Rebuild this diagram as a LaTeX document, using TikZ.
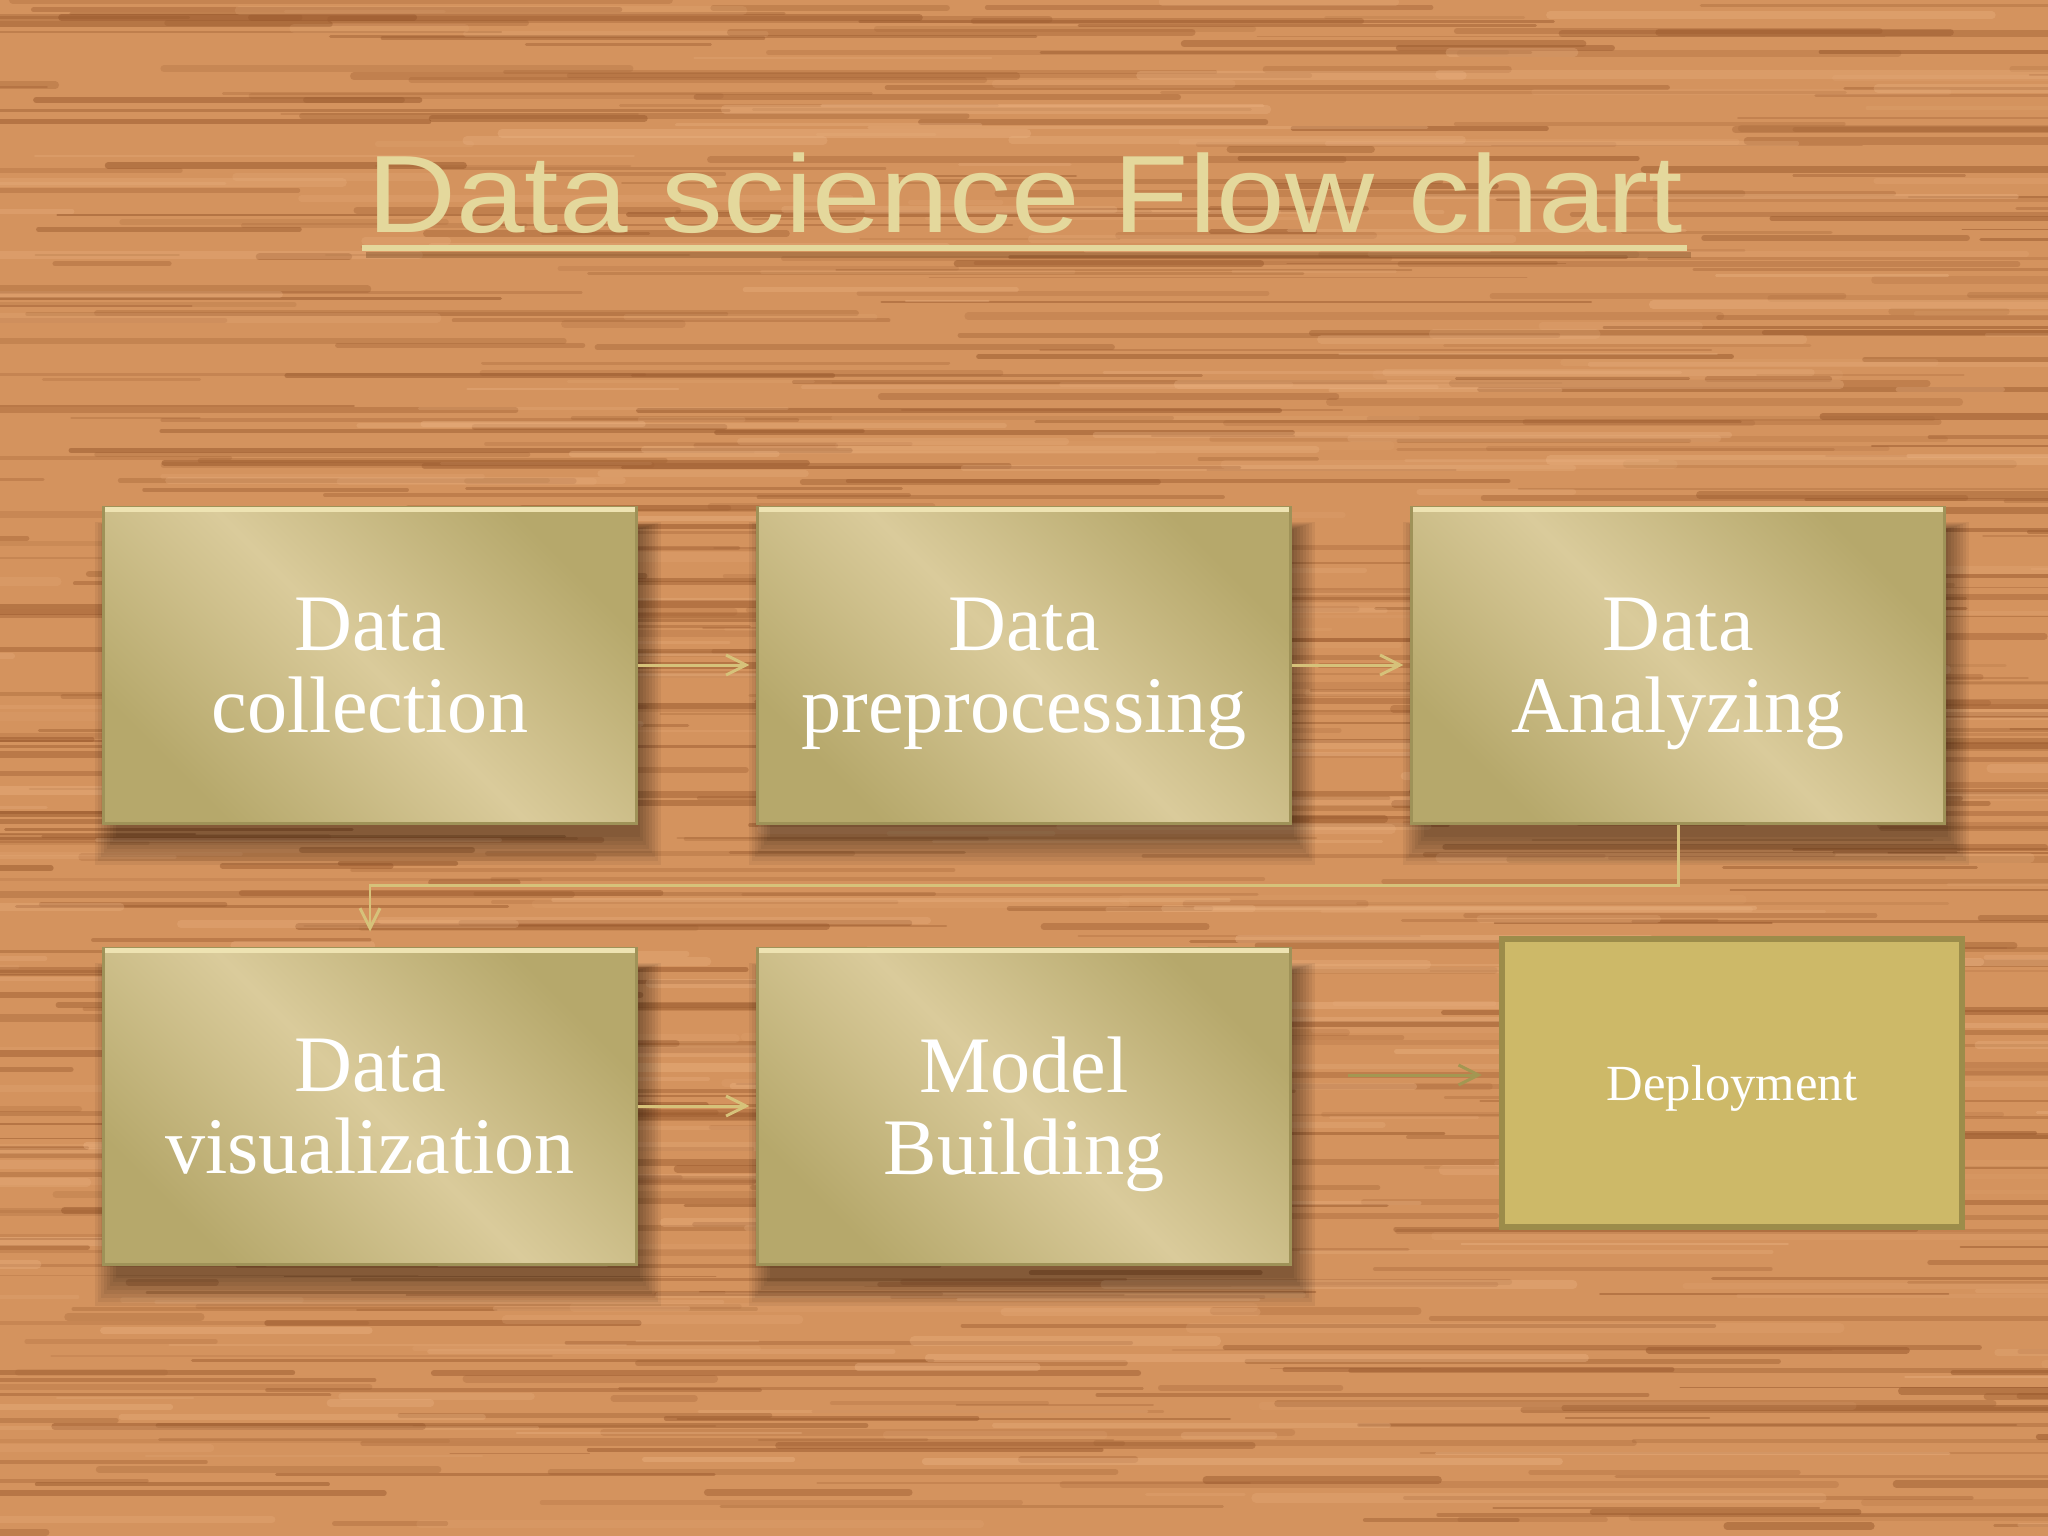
\documentclass[tikz,border=0pt]{standalone}
\usepackage{fontspec}
\setmainfont{Liberation Serif}
\newfontfamily\titlefont{Liberation Sans}
\usetikzlibrary{arrows.meta,calc}
\definecolor{woodbase}{HTML}{D4935E}
\definecolor{wooddark}{HTML}{9A5A2E}
\definecolor{woodlight}{HTML}{EDB585}
\definecolor{goldlight}{HTML}{DACB9B}
\definecolor{golddark}{HTML}{B6A86B}
\definecolor{goldedge}{HTML}{9F9258}
\definecolor{goldhi}{HTML}{EEE3B2}
\definecolor{arrowkhaki}{HTML}{D6C27A}
\definecolor{arrowolive}{HTML}{A39752}
\definecolor{depfill}{HTML}{CDB968}
\definecolor{depedge}{HTML}{9C8C4A}
\definecolor{titlecol}{HTML}{E4D89C}
\definecolor{titleshadow}{HTML}{6E4420}
\newcommand{\softshadow}[2]{%
  \foreach \k in {0,...,7}{
    \fill[black, opacity=0.055]
      ({#1-262-3*\k+8},{#2-150-1*\k+14}) rectangle ({#1+262+3*\k+8},{#2+158+4*\k+14});
  }}
\begin{document}
\begin{tikzpicture}[x=0.01cm,y=-0.01cm,
  stepbox/.style={rectangle, minimum width=5.32cm, minimum height=3.16cm, inner sep=0pt,
    draw=goldedge, line width=0.8pt,
    top color=golddark, bottom color=golddark, middle color=goldlight, shading angle=-45,
    text=white, align=center, text depth=0pt, font=\fontsize{22.8}{23.3}\selectfont},
  depbox/.style={rectangle, minimum width=4.60cm, minimum height=2.87cm, inner sep=0pt,
    draw=depedge, line width=1.7pt, fill=depfill, text depth=-0.04cm,
    text=white, font=\fontsize{14.4}{17}\selectfont},
  arr/.style={draw=arrowkhaki, line width=0.85pt, -{Straight Barb[length=0.2cm,width=0.2cm]}},
  arrdark/.style={draw=arrowolive, line width=0.85pt, -{Straight Barb[length=0.2cm,width=0.2cm]}},
  titletext/.style={font=\titlefont\fontsize{31.3}{36}\selectfont, inner sep=0pt, anchor=base}
]
\useasboundingbox (0,0) rectangle (2048,1536);
% wood background
\fill[woodbase] (0,0) rectangle (2048,1536);
\pgfmathsetseed{7}
\begin{scope}
\clip (0,0) rectangle (2048,1536);
\foreach \i in {1,...,700}{
  \pgfmathsetmacro{\yy}{rnd*1536}
  \pgfmathsetmacro{\xx}{rnd*2400-300}
  \pgfmathsetmacro{\ll}{80+rnd*700}
  \pgfmathsetmacro{\ww}{0.4+rnd*1.8}
  \pgfmathsetmacro{\oo}{0.15+rnd*0.4}
  \draw[wooddark, line width=\ww pt, opacity=\oo, line cap=round] (\xx,\yy) -- ++(\ll,0);
}
\foreach \i in {1,...,300}{
  \pgfmathsetmacro{\yy}{rnd*1536}
  \pgfmathsetmacro{\xx}{rnd*2400-300}
  \pgfmathsetmacro{\ll}{80+rnd*600}
  \pgfmathsetmacro{\ww}{0.6+rnd*2.2}
  \pgfmathsetmacro{\oo}{0.1+rnd*0.3}
  \draw[woodlight, line width=\ww pt, opacity=\oo, line cap=round] (\xx,\yy) -- ++(\ll,0);
}
\end{scope}
% title
\node[titletext, text=titlecol] (title) at (1025,232) {\scalebox{1.12}[1]{Data science Flow chart}};
\fill[titleshadow, opacity=0.35] (366,252) rectangle (1691,258);
\fill[titlecol] (362,245) rectangle (1687,251);
% shadows
\softshadow{370}{665}
\softshadow{1024}{665}
\softshadow{1678}{665}
\softshadow{370}{1106}
\softshadow{1024}{1106}
% boxes
\node[stepbox] (b1) at (370,665) {Data\\collection};
\node[stepbox] (b2) at (1024,665) {Data\\preprocessing};
\node[stepbox] (b3) at (1678,665) {Data\\Analyzing};
\node[stepbox] (b4) at (370,1106) {Data\\visualization};
\node[stepbox] (b5) at (1024,1106) {Model\\Building};
\node[depbox] (b6) at (1732,1083) {Deployment};
\foreach \b in {b1,b2,b3,b4,b5}{
  \draw[goldhi, line width=1.2pt] ([shift={(3,4)}]\b.north west) -- ([shift={(-3,4)}]\b.north east);
}
% connectors
\draw[arr] (b1.east) -- ([xshift=-0.07cm]b2.west);
\draw[arr] (b2.east) -- ([xshift=-0.07cm]b3.west);
\coordinate (m) at (370,885);
\draw[arr] (b3.south) |- (m) -- ([yshift=0.15cm]b4.north);
\draw[arr] (b4.east) -- ([xshift=-0.07cm]b5.west);
\coordinate (s5) at (1348,1075);
\draw[arrdark, shorten >=0.17cm] (s5) -- (s5 -| b6.west);
\end{tikzpicture}
\end{document}
